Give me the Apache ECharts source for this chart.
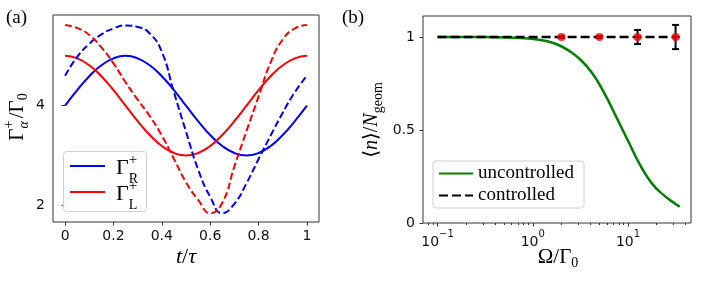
<!DOCTYPE html>
<html><head><meta charset="utf-8">
<script src="https://cdn.jsdelivr.net/npm/echarts@6/dist/echarts.min.js"></script>
<style>html,body{margin:0;padding:0;background:#fff}#c{width:706px;height:285px}</style>
</head><body><div id="c"></div>
<script>
// ---------- panel (a) data ----------
const tVals = [0,0.05,0.1,0.15,0.2,0.25,0.3,0.35,0.4,0.45,0.5,0.55,0.6,0.65,0.7,0.75,0.8,0.85,0.9,0.95,1];
const gammaR = [4.00,4.31,4.59,4.81,4.95,5.00,4.95,4.81,4.59,4.31,4.00,3.69,3.41,3.19,3.05,3.00,3.05,3.19,3.41,3.69,4.00];
const gammaL = [5.00,4.95,4.81,4.59,4.31,4.00,3.69,3.41,3.19,3.05,3.00,3.05,3.19,3.41,3.69,4.00,4.31,4.59,4.81,4.95,5.00];
const gammaRDash = [4.60,4.98,5.24,5.43,5.55,5.61,5.58,5.45,5.08,4.27,3.48,2.72,2.17,1.84,2.03,2.44,2.93,3.40,3.86,4.27,4.60];
const gammaLDash = [5.62,5.56,5.42,5.17,4.85,4.47,4.12,3.79,3.40,2.93,2.46,2.11,1.84,2.05,2.78,3.49,4.18,4.87,5.33,5.55,5.62];
const tTicks = [0,0.2,0.4,0.6,0.8,1];
const yTicksA = [2,4];

// ---------- panel (b) data ----------
const omega = [0.1,0.178,0.316,0.562,1,1.33,1.78,2.37,3.16,4.22,5.62,7.5,10,13.3,17.8,23.7,31.6,35];
const uncontrolled = [1.0,1.0,1.0,0.998,0.990,0.980,0.961,0.928,0.879,0.805,0.700,0.572,0.442,0.315,0.213,0.150,0.102,0.088];
const ctrlOmega = [0.1,35];
const ctrlVals = [1,1];
const ptsOmega = [2,5,12.6,31.6];
const ptsVals = [1,1,1,1];
const ptsErr = [0.005,0.005,0.038,0.065];
const logTicks = [0.1,1,10];
const logMinor = [0.08,0.09,0.2,0.3,0.4,0.5,0.6,0.7,0.8,0.9,2,3,4,5,6,7,8,9,20,30,40];
const yTicksB = [0,0.5,1];

const SERIF = '"Liberation Serif","DejaVu Serif",serif';
const SANS = 'DejaVu Sans';
const mctx = document.createElement('canvas').getContext('2d');
function measure(t, font){ mctx.font = font; return mctx.measureText(t).width; }
function mathText(pieces, cx, cy, rot, anchor){
  let x = 0, pend = 0; const kids = [];
  pieces.forEach(p => {
    const font = (p.it ? 'italic ' : '') + p.s + 'px ' + SERIF;
    const w = measure(p.t, font) + (p.kern || 0);
    kids.push({type:'text', z:100, x: x + (p.dx || 0), y: p.dy || 0,
      style:{text:p.t, font:font, fill:'#000', textAlign:'left', textVerticalAlign:'middle', align:'left', verticalAlign:'middle'}});
    if (p.stack) { pend = Math.max(pend, w); }
    else { x += Math.max(w, pend); pend = 0; }
  });
  if (anchor !== 'left') kids.forEach(k => k.x -= x / 2);
  return {type:'group', x:cx, y:cy, rotation: rot || 0, z:100, children:kids};
}

const chart = echarts.init(document.getElementById('c'), null, {renderer:'canvas'});
const tickStyle = {color:'#333', width:1};
const labelStyle = {fontFamily:SANS, fontSize:14, color:'#111'};

function xy(xs, ys){ return xs.map((x,i)=>[x, ys[i]]); }

const option = {
  animation:false,
  backgroundColor:'#fff',
  grid:[
    {left:53, top:15, width:266, height:207, show:true, borderColor:'#333', borderWidth:1, backgroundColor:'transparent'},
    {left:423, top:16, width:268, height:207, show:true, borderColor:'#333', borderWidth:1, backgroundColor:'transparent'}
  ],
  xAxis:[
    {gridIndex:0, type:'value', min:-0.05, max:1.05, axisLine:{show:false}, splitLine:{show:false},
     axisTick:{customValues:tTicks, length:3.5, lineStyle:tickStyle},
     axisLabel:Object.assign({customValues:tTicks, margin:7}, labelStyle)},
    {gridIndex:1, type:'log', min:0.0703, max:45.9, position:'bottom', axisLine:{show:false}, splitLine:{show:false},
     axisTick:{customValues:logTicks, length:3.5, lineStyle:tickStyle},
     axisLabel:Object.assign({customValues:logTicks, margin:6,
        formatter: v => '{b|10}{s|' + String(Math.round(Math.log10(v))).replace('-', '\u2212') + '}',
        rich:{b:{fontFamily:SANS, fontSize:14, color:'#111', lineHeight:20, verticalAlign:'bottom'},
              s:{fontFamily:SANS, fontSize:10, color:'#111', lineHeight:20, verticalAlign:'top'}}}, labelStyle)},
    {gridIndex:1, type:'log', min:0.0703, max:45.9, position:'bottom', axisLine:{show:false}, splitLine:{show:false},
     axisTick:{customValues:logMinor, length:2, lineStyle:tickStyle}, axisLabel:{show:false}}
  ],
  yAxis:[
    {gridIndex:0, type:'value', min:1.665, max:5.82, axisLine:{show:false}, splitLine:{show:false},
     axisTick:{customValues:yTicksA, length:3.5, lineStyle:tickStyle},
     axisLabel:Object.assign({customValues:yTicksA, margin:8}, labelStyle)},
    {gridIndex:1, type:'value', min:0, max:1.113, axisLine:{show:false}, splitLine:{show:false},
     axisTick:{customValues:yTicksB, length:3.5, lineStyle:tickStyle},
     axisLabel:Object.assign({customValues:yTicksB, margin:8}, labelStyle)}
  ],
  legend:{
    data:['uncontrolled','controlled'], orient:'vertical', left:433, top:161,
    itemWidth:34, itemHeight:14, itemGap:3, padding:[3,10,3,5],
    itemStyle:{opacity:0},
    backgroundColor:'rgba(255,255,255,0.85)', borderColor:'#d0d0d0', borderWidth:1, borderRadius:3,
    textStyle:{fontFamily:SERIF, fontSize:19, color:'#000'}
  },
  series:[
    {name:'GR', type:'line', xAxisIndex:0, yAxisIndex:0, data:xy(tVals,gammaR), smooth:true, symbol:'none',
     lineStyle:{color:'#0000ff', width:2}},
    {name:'GL', type:'line', xAxisIndex:0, yAxisIndex:0, data:xy(tVals,gammaL), smooth:true, symbol:'none',
     lineStyle:{color:'#ff0000', width:2}},
    {name:'GRd', type:'line', xAxisIndex:0, yAxisIndex:0, data:xy(tVals,gammaRDash), smooth:true, symbol:'none',
     lineStyle:{color:'#0000ff', width:2, type:[7,3.2]}},
    {name:'GLd', type:'line', xAxisIndex:0, yAxisIndex:0, data:xy(tVals,gammaLDash), smooth:true, symbol:'none',
     lineStyle:{color:'#ff0000', width:2, type:[7,3.2]}},
    {name:'uncontrolled', type:'line', xAxisIndex:1, yAxisIndex:1, data:xy(omega,uncontrolled), smooth:0.5, symbol:'none',
     itemStyle:{color:'#008000'}, lineStyle:{color:'#008000', width:2.5}},
    {name:'controlled', type:'line', xAxisIndex:1, yAxisIndex:1, data:xy(ctrlOmega,ctrlVals), symbol:'none',
     itemStyle:{color:'#000'}, lineStyle:{color:'#000', width:2.5, type:[9,4]}, z:3},
    {name:'err', type:'custom', xAxisIndex:1, yAxisIndex:1, z:4,
     data: ptsOmega.map((o,i)=>[o, ptsVals[i]-ptsErr[i], ptsVals[i]+ptsErr[i]]),
     encode:{x:0, y:[1,2]},
     renderItem:(params, api) => {
       const lo = api.coord([api.value(0), api.value(1)]);
       const hi = api.coord([api.value(0), api.value(2)]);
       const w = 3.5, st = {stroke:'#000', lineWidth:2};
       return {type:'group', children:[
         {type:'line', shape:{x1:lo[0], y1:lo[1], x2:hi[0], y2:hi[1]}, style:st},
         {type:'line', shape:{x1:lo[0]-w, y1:lo[1], x2:lo[0]+w, y2:lo[1]}, style:st},
         {type:'line', shape:{x1:hi[0]-w, y1:hi[1], x2:hi[0]+w, y2:hi[1]}, style:st}
       ]};
     }},
    {name:'pts', type:'scatter', xAxisIndex:1, yAxisIndex:1, data:xy(ptsOmega,ptsVals), symbolSize:8,
     itemStyle:{color:'#ff0000'}, z:5}
  ],
  graphic:[
    {type:'text', z:100, x:6, y:9, style:{text:'(a)', font:'19px '+SERIF, fill:'#000'}},
    {type:'text', z:100, x:342, y:9, style:{text:'(b)', font:'19px '+SERIF, fill:'#000'}},
    // legend (a)
    {type:'rect', z:99, shape:{x:63.5, y:151.5, width:83, height:60, r:3},
     style:{fill:'rgba(255,255,255,0.85)', stroke:'#d0d0d0', lineWidth:1}},
    {type:'line', z:100, shape:{x1:70, y1:166, x2:105, y2:166}, style:{stroke:'#0000ff', lineWidth:2}},
    {type:'line', z:100, shape:{x1:70, y1:192, x2:105, y2:192}, style:{stroke:'#ff0000', lineWidth:2}},
    mathText([{t:'Γ', s:22}, {t:'+', s:15, dy:-8, stack:true}, {t:'R', s:14, dy:11}], 116, 168, 0, 'left'),
    mathText([{t:'Γ', s:22}, {t:'+', s:15, dy:-8, stack:true}, {t:'L', s:14, dy:11}], 116, 194, 0, 'left'),
    // axis names
    mathText([{t:'t', s:22, it:true}, {t:'/', s:22}, {t:'τ', s:22, it:true}], 186, 257),
    mathText([{t:'Ω', s:21}, {t:'/', s:21}, {t:'Γ', s:21}, {t:'0', s:14, dy:6}], 558, 257),
    mathText([{t:'Γ', s:21}, {t:'+', s:14, dy:-8, stack:true}, {t:'α', s:14, it:true, dy:7, kern:3},
              {t:'/', s:21}, {t:'Γ', s:21}, {t:'0', s:14, dy:6}], 17, 117, Math.PI/2),
    mathText([{t:'⟨', s:20}, {t:'n', s:20, it:true}, {t:'⟩', s:20}, {t:'/', s:20}, {t:'N', s:20, it:true},
              {t:'geom', s:14, dy:6}], 372, 120, Math.PI/2)
  ]
};
chart.setOption(option);
</script>
</body></html>
